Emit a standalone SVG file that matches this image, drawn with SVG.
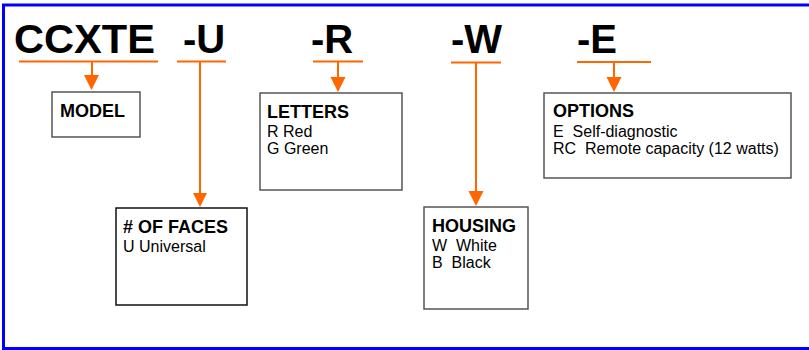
<svg xmlns="http://www.w3.org/2000/svg" width="809" height="350" viewBox="0 0 809 350">
<style>
.code{font-family:"Liberation Sans",Arial,sans-serif;font-weight:bold;font-size:40px;fill:#000}
.hd{font-family:"Liberation Sans",Arial,sans-serif;font-weight:bold;font-size:18px;fill:#000}
.bd{font-family:"Liberation Sans",Arial,sans-serif;font-size:16px;fill:#000}
.box{fill:#fff;stroke:#555;stroke-width:1.5}
.ln{stroke:#FF6600;stroke-width:2;fill:none}
.ah{fill:#FF6600}
</style>
<rect x="0" y="0" width="809" height="350" fill="#fff"/>
<rect x="3.5" y="5" width="830" height="343.5" fill="none" stroke="#0000FF" stroke-width="3"/>
<g id="codes">
<text class="code" x="14" y="53" textLength="141" lengthAdjust="spacingAndGlyphs">CCXTE</text>
<text class="code" x="183" y="53">-U</text>
<text class="code" x="311" y="53">-R</text>
<text class="code" x="451" y="53">-W</text>
<text class="code" x="577" y="53">-E</text>
</g>
<g id="connectors">
<line class="ln" x1="19" y1="61.5" x2="158" y2="61.5"/>
<line class="ln" x1="92" y1="61.5" x2="92" y2="76"/>
<polygon class="ah" points="84,75 99,75 91.5,90"/>
<line class="ln" x1="177" y1="61.5" x2="226" y2="61.5"/>
<line class="ln" x1="200" y1="61.5" x2="200" y2="194"/>
<polygon class="ah" points="193,193 207,193 200,207"/>
<line class="ln" x1="313" y1="61.5" x2="363" y2="61.5"/>
<line class="ln" x1="338" y1="61.5" x2="338" y2="78"/>
<polygon class="ah" points="330.5,77 345.5,77 338,92"/>
<line class="ln" x1="451" y1="62.5" x2="501" y2="62.5"/>
<line class="ln" x1="476" y1="62.5" x2="476" y2="192"/>
<polygon class="ah" points="468.5,191 483.5,191 476,206"/>
<line class="ln" x1="577" y1="62" x2="651" y2="62"/>
<line class="ln" x1="614" y1="62" x2="614" y2="78"/>
<polygon class="ah" points="606.5,77 621.5,77 614,92"/>
</g>
<g id="model">
<rect class="box" x="52" y="92" width="88" height="45"/>
<text class="hd" x="60" y="117">MODEL</text>
</g>
<g id="faces">
<rect class="box" x="116" y="208" width="131" height="97" style="stroke:#111"/>
<text class="hd" x="123" y="233"># OF FACES</text>
<text class="bd" x="123" y="252">U Universal</text>
</g>
<g id="letters">
<rect class="box" x="260" y="93" width="142" height="97"/>
<text class="hd" x="267" y="118">LETTERS</text>
<text class="bd" x="267" y="137">R Red</text>
<text class="bd" x="267" y="154">G Green</text>
</g>
<g id="housing">
<rect class="box" x="424" y="207" width="104" height="102"/>
<text class="hd" x="432" y="232">HOUSING</text>
<text class="bd" x="432" y="251" xml:space="preserve">W  White</text>
<text class="bd" x="432" y="268" xml:space="preserve">B  Black</text>
</g>
<g id="options">
<rect class="box" x="544" y="93" width="247" height="85"/>
<text class="hd" x="553" y="117">OPTIONS</text>
<text class="bd" x="553" y="137" xml:space="preserve">E  Self-diagnostic</text>
<text class="bd" x="553" y="154" xml:space="preserve">RC  Remote capacity (12 watts)</text>
</g>
</svg>
